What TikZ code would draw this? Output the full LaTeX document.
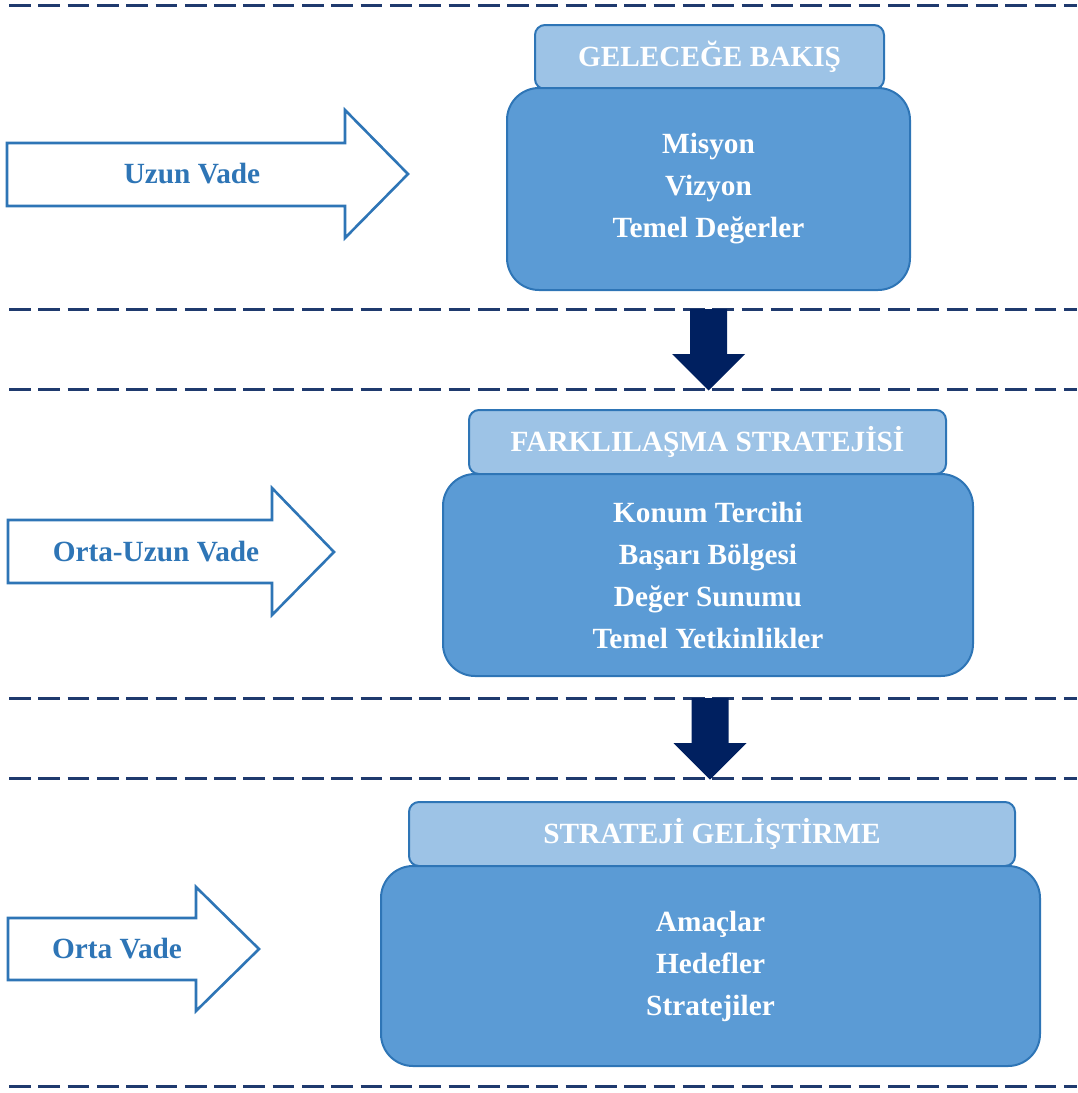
\documentclass[tikz,border=0pt]{standalone}
\usepackage{fontspec}
\setmainfont{Liberation Serif}
\usetikzlibrary{calc}
\definecolor{boxedge}{HTML}{2E75B6}
\definecolor{mainfill}{HTML}{5B9BD5}
\definecolor{headfill}{HTML}{9DC3E6}
\definecolor{rulenavy}{HTML}{1F3A6E}
\definecolor{arrownavy}{HTML}{002060}
\begin{document}
\begin{tikzpicture}[x=1pt,y=-1pt,
  dashrule/.style={draw=rulenavy,line width=3pt,dash pattern=on 21.7pt off 7.6pt},
  headbox/.style={draw=boxedge,fill=headfill,line width=2pt,rounded corners=10pt,
    inner sep=0pt,text=white,font=\fontsize{29.3}{34}\selectfont\bfseries},
  mainbox/.style={draw=boxedge,fill=mainfill,line width=2pt,rounded corners=32pt,
    inner sep=0pt,text=white,align=center,font=\fontsize{29.3}{42}\selectfont\bfseries},
  stagearrow/.style={draw=boxedge,fill=white,line width=2.6pt,line join=miter},
  stagetext/.style={text=boxedge,inner sep=0pt,font=\fontsize{29.3}{34}\selectfont\bfseries},
  flowarrow/.style={fill=arrownavy}
]
\useasboundingbox (0,0) rectangle (1077,1093);

% horizontal dashed separators
\foreach \yy in {5,309,389,698,778,1086}
  \draw[dashrule] (9,\yy) -- (1077,\yy);

% stage 1
\node[headbox,minimum width=349pt,minimum height=64pt] (h1) at (709.5,57) {GELECEĞE BAKIŞ};
\node[mainbox,minimum width=403pt,minimum height=202pt] (b1) at (708.5,189)
  {Misyon\\Vizyon\\Temel Değerler};

% stage 2
\node[headbox,minimum width=477pt,minimum height=64pt] (h2) at (707.5,442) {FARKLILAŞMA STRATEJİSİ};
\node[mainbox,minimum width=530pt,minimum height=202pt] (b2) at (708,575)
  {Konum Tercihi\\Başarı Bölgesi\\Değer Sunumu\\Temel Yetkinlikler};

% stage 3
\node[headbox,minimum width=606pt,minimum height=64pt] (h3) at (712,834) {STRATEJİ GELİŞTİRME};
\node[mainbox,minimum width=659pt,minimum height=200pt] (b3) at (710.5,966)
  {Amaçlar\\Hedefler\\Stratejiler};

% block arrows between stages
\coordinate (d1) at (708.5,309);
\coordinate (d2) at (710,698);
\foreach \d in {d1,d2}{
  \fill[flowarrow] ($(\d)+(-18.5,0)$) -- ++(37,0) -- ++(0,45) -- ++(18,0)
    -- ($(\d)+(0,81.5)$) -- ($(\d)+(-36.5,45)$) -- ++(18,0) -- cycle;
}

% time-horizon arrows
\draw[stagearrow] (7,143) -- (345,143) -- (345,110) -- (408,174) -- (345,238) -- (345,206) -- (7,206) -- cycle;
\node[stagetext] (t1) at (192,174) {Uzun Vade};

\draw[stagearrow] (8,520) -- (272,520) -- (272,488) -- (334,552) -- (272,615) -- (272,583) -- (8,583) -- cycle;
\node[stagetext] (t2) at (156,552) {Orta-Uzun Vade};

\draw[stagearrow] (8,918) -- (196,918) -- (196,887) -- (259,949) -- (196,1011) -- (196,980) -- (8,980) -- cycle;
\node[stagetext] (t3) at (117,949) {Orta Vade};
\end{tikzpicture}
\end{document}
